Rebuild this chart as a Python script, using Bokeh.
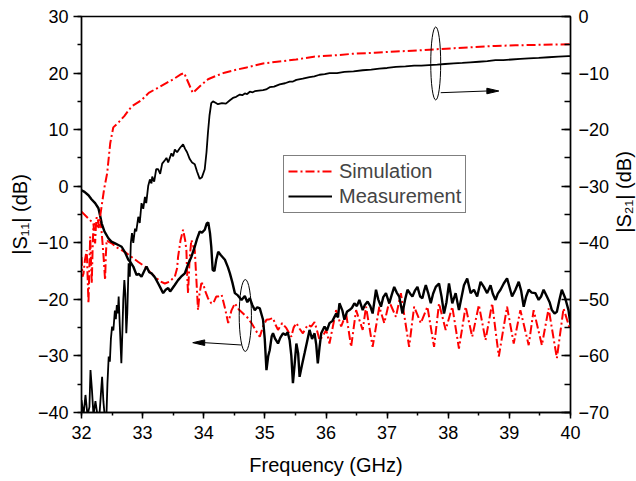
from math import pi
from bokeh.plotting import figure
from bokeh.layouts import row
from bokeh.models import (Range1d, LinearAxis, SingleIntervalTicker, Legend,
                          LegendItem, Label)
from bokeh.embed import file_html
from bokeh.resources import INLINE

FONT = "Liberation Sans"

# ---------------- data ----------------
# |S21| simulation (right axis, dB)
s21_sim_f = [32.00, 32.12, 32.22, 32.28, 32.33, 32.37, 32.42, 32.47, 32.52, 32.60,
             32.70, 32.82, 32.98, 33.10, 33.25, 33.40, 33.50, 33.63, 33.68, 33.82,
             33.95, 34.07, 34.20, 34.34, 34.50, 34.70, 34.97, 35.20, 35.51, 35.80,
             36.10, 36.43, 36.80, 37.14, 37.50, 37.79, 38.10, 38.45, 38.77, 39.10,
             39.50, 40.00]
s21_sim = [-34.5, -35.8, -36.8, -37.2, -33.5, -30.5, -27.7, -22.4, -19.6, -18.8,
           -17.6, -15.9, -14.8, -13.5, -12.6, -11.7, -11.1, -10.2, -10.0, -13.5,
           -12.2, -11.1, -10.5, -9.93, -9.5, -9.0, -8.3, -8.0, -7.6, -7.1,
           -6.9, -6.6, -6.4, -6.2, -6.0, -5.8, -5.6, -5.4, -5.2, -5.1,
           -5.0, -4.9]

# |S21| measurement (right axis, dB)
s21_meas_f = [32.000, 32.033, 32.065, 32.098, 32.130, 32.147, 32.171, 32.196, 32.228, 32.261,
              32.293, 32.337, 32.358, 32.383, 32.407, 32.424, 32.445, 32.464, 32.481, 32.500,
              32.521, 32.546, 32.562, 32.578, 32.595, 32.608, 32.627, 32.652, 32.668, 32.684,
              32.701, 32.717, 32.733, 32.749, 32.771, 32.790, 32.807, 32.826, 32.847, 32.875,
              32.896, 32.929, 32.953, 32.982, 33.010, 33.038, 33.059, 33.092, 33.119, 33.145,
              33.157, 33.189, 33.222, 33.255, 33.287, 33.320, 33.364, 33.390, 33.418, 33.471,
              33.499, 33.527, 33.564, 33.613, 33.662, 33.695, 33.727, 33.771, 33.809, 33.853,
              33.890, 33.934, 33.971, 34.016, 34.045, 34.069, 34.094, 34.123, 34.151, 34.200,
              34.232, 34.297, 34.363, 34.428, 34.477, 34.530, 34.591, 34.630, 34.672, 34.710,
              34.754, 34.800, 34.835, 34.900, 34.970, 35.020, 35.079, 35.150, 35.242, 35.330,
              35.405, 35.460, 35.515, 35.620, 35.731, 35.810, 35.894, 35.980, 36.057, 36.180,
              36.301, 36.450, 36.600, 36.740, 36.872, 37.000, 37.144, 37.300, 37.442, 37.560,
              37.686, 37.820, 37.947, 38.090, 38.229, 38.360, 38.501, 38.640, 38.773, 38.900,
              39.039, 39.180, 39.316, 39.480, 39.642, 39.800, 39.967, 40.000]
s21_meas = [-67.8, -70.5, -66.9, -70.5, -69.0, -62.5, -66.0, -70.5, -68.0, -70.5,
            -70.5, -63.7, -68.0, -71.0, -71.0, -65.0, -60.1, -61.0, -57.0, -54.8,
            -55.5, -52.0, -53.5, -51.0, -52.5, -49.5, -54.8, -61.3, -56.0, -50.0,
            -46.6, -49.0, -56.0, -52.5, -43.6, -46.0, -40.0, -38.3, -40.0, -37.5,
            -38.0, -35.4, -36.5, -33.0, -34.0, -31.9, -33.0, -29.9, -28.8, -29.5,
            -28.3, -29.2, -27.0, -27.0, -27.8, -26.0, -25.4, -25.0, -25.8, -24.2,
            -24.7, -23.5, -24.0, -23.2, -22.6, -23.4, -24.0, -25.2, -25.8, -26.1,
            -27.4, -28.7, -28.4, -27.0, -24.0, -20.5, -17.5, -15.3, -15.0, -15.3,
            -15.5, -15.3, -15.4, -14.8, -14.4, -14.2, -13.8, -13.9, -13.6, -13.7,
            -13.3, -13.4, -13.2, -13.1, -13.0, -12.9, -12.5, -12.4, -12.0, -11.8,
            -11.5, -11.5, -11.2, -11.0, -10.7, -10.6, -10.3, -10.2, -10.0, -10.0,
            -9.8, -9.7, -9.5, -9.4, -9.2, -9.1, -8.9, -8.8, -8.7, -8.7,
            -8.6, -8.5, -8.4, -8.3, -8.2, -8.1, -8.0, -7.9, -7.7, -7.7,
            -7.6, -7.5, -7.4, -7.3, -7.2, -7.1, -7.0, -7.0]

# |S11| simulation (left axis, dB)
s11_sim_f = [32.000, 32.016, 32.033, 32.057, 32.086, 32.103, 32.114, 32.130, 32.142, 32.155,
             32.168, 32.182, 32.196, 32.212, 32.223, 32.236, 32.249, 32.269, 32.285, 32.310,
             32.331, 32.358, 32.386, 32.399, 32.412, 32.440, 32.494, 32.570, 32.657, 32.733,
             32.820, 32.929, 33.038, 33.124, 33.201, 33.287, 33.364, 33.434, 33.527, 33.564,
             33.580, 33.621, 33.662, 33.695, 33.716, 33.730, 33.743, 33.768, 33.797, 33.825,
             33.853, 33.882, 33.906, 33.931, 33.960, 33.993, 34.016, 34.069, 34.123, 34.156,
             34.204, 34.232, 34.293, 34.346, 34.400, 34.452, 34.509, 34.574, 34.644, 34.713,
             34.781, 34.851, 34.917, 34.970, 35.026, 35.079, 35.133, 35.174, 35.215, 35.283,
             35.352, 35.389, 35.433, 35.470, 35.515, 35.568, 35.622, 35.663, 35.704, 35.759,
             35.813, 35.853, 35.894, 35.948, 36.003, 36.057, 36.166, 36.248, 36.329, 36.411,
             36.492, 36.600, 36.655, 36.763, 36.872, 36.953, 37.035, 37.144, 37.225, 37.360,
             37.442, 37.551, 37.659, 37.768, 37.849, 37.958, 38.066, 38.175, 38.284, 38.392,
             38.501, 38.610, 38.718, 38.827, 38.962, 39.071, 39.180, 39.316, 39.397, 39.532,
             39.642, 39.777, 39.886, 39.995]
s11_sim = [-12.5, -16.0, -15.4, -13.0, -11.3, -17.0, -20.7, -14.0, -8.9, -13.0,
           -17.2, -11.0, -6.6, -9.0, -10.1, -7.0, -5.4, -6.0, -7.5, -6.0,
           -8.3, -12.0, -16.6, -12.0, -9.5, -9.8, -10.1, -10.8, -11.3, -11.8,
           -12.5, -13.4, -14.2, -15.2, -16.0, -16.8, -17.2, -16.9, -16.0, -14.5,
           -12.5, -9.5, -7.7, -9.5, -11.3, -16.0, -18.9, -13.0, -9.5, -10.5,
           -11.3, -17.0, -21.9, -19.0, -17.2, -17.2, -18.3, -19.8, -20.7, -20.7,
           -19.5, -19.5, -19.2, -21.5, -24.2, -22.0, -20.7, -21.8, -22.5, -23.2,
           -24.2, -25.5, -26.6, -24.8, -23.6, -23.5, -23.3, -24.5, -25.4, -24.2,
           -25.1, -25.8, -26.6, -25.0, -24.2, -25.2, -26.0, -25.2, -24.5, -24.8,
           -24.0, -25.5, -27.2, -26.5, -25.4, -27.8, -21.9, -24.8, -22.5, -28.4,
           -21.9, -25.4, -21.3, -28.4, -21.3, -24.2, -20.4, -23.1, -18.9, -28.4,
           -21.3, -24.2, -21.3, -28.4, -20.7, -25.4, -21.3, -28.7, -21.3, -26.6,
           -21.0, -27.2, -20.7, -30.1, -21.3, -27.8, -21.9, -28.1, -21.9, -28.1,
           -21.6, -30.4, -21.6, -25.4]

# |S11| measurement (left axis, dB)
s11_meas_f = [32.000, 32.049, 32.114, 32.163, 32.223, 32.277, 32.310, 32.331, 32.375, 32.440,
              32.489, 32.549, 32.603, 32.657, 32.717, 32.766, 32.798, 32.847, 32.901, 32.937,
              32.982, 33.026, 33.064, 33.108, 33.145, 33.206, 33.255, 33.303, 33.336, 33.377,
              33.418, 33.450, 33.471, 33.523, 33.580, 33.629, 33.690, 33.743, 33.797, 33.853,
              33.890, 33.934, 33.971, 34.016, 34.048, 34.074, 34.102, 34.123, 34.146, 34.175,
              34.204, 34.237, 34.281, 34.346, 34.395, 34.428, 34.468, 34.509, 34.558, 34.618,
              34.672, 34.713, 34.754, 34.794, 34.835, 34.876, 34.917, 34.970, 34.998, 35.026,
              35.055, 35.079, 35.112, 35.133, 35.169, 35.215, 35.251, 35.296, 35.340, 35.373,
              35.405, 35.433, 35.459, 35.487, 35.515, 35.544, 35.568, 35.609, 35.650, 35.690,
              35.731, 35.772, 35.813, 35.840, 35.866, 35.894, 35.922, 35.976, 36.016, 36.057,
              36.106, 36.166, 36.196, 36.220, 36.269, 36.301, 36.342, 36.383, 36.424, 36.464,
              36.505, 36.546, 36.600, 36.635, 36.681, 36.725, 36.763, 36.818, 36.855, 36.899,
              36.937, 36.981, 37.035, 37.075, 37.116, 37.157, 37.198, 37.251, 37.295, 37.333,
              37.377, 37.414, 37.458, 37.496, 37.540, 37.577, 37.605, 37.633, 37.670, 37.714,
              37.752, 37.796, 37.849, 37.890, 37.931, 37.971, 38.012, 38.066, 38.121, 38.175,
              38.257, 38.310, 38.366, 38.420, 38.473, 38.529, 38.582, 38.636, 38.692, 38.729,
              38.773, 38.811, 38.855, 38.908, 38.962, 39.006, 39.044, 39.099, 39.153, 39.193,
              39.234, 39.275, 39.316, 39.365, 39.425, 39.479, 39.519, 39.560, 39.614, 39.658,
              39.695, 39.739, 39.777, 39.821, 39.858, 39.914, 39.967, 40.000]
s11_meas = [-0.7, -1.0, -1.6, -2.3, -3.0, -3.9, -5.5, -6.6, -8.0, -9.2,
            -9.8, -10.1, -10.4, -10.7, -11.8, -13.0, -13.4, -14.2, -15.7, -15.5,
            -16.0, -15.0, -14.2, -15.2, -15.4, -16.2, -17.2, -18.2, -18.9, -18.3,
            -18.0, -18.6, -18.3, -17.5, -16.6, -16.0, -15.4, -13.8, -12.5, -10.7,
            -9.3, -8.0, -8.2, -7.7, -6.6, -6.4, -8.3, -10.7, -14.8, -15.0,
            -13.0, -11.6, -12.2, -13.0, -14.3, -15.4, -17.0, -18.9, -19.3, -20.1,
            -19.4, -20.5, -19.8, -21.0, -21.9, -21.4, -21.6, -23.6, -27.0, -32.5,
            -30.0, -29.0, -26.5, -26.0, -27.0, -27.8, -26.8, -26.0, -26.3, -25.8,
            -27.2, -30.0, -34.8, -31.5, -27.8, -29.5, -33.7, -31.5, -29.5, -27.5,
            -25.4, -27.0, -26.0, -28.0, -31.3, -28.5, -26.0, -24.8, -25.5, -24.2,
            -23.8, -22.5, -23.2, -20.7, -22.0, -23.6, -22.2, -21.9, -21.5, -20.7,
            -21.2, -20.1, -21.9, -21.0, -20.4, -21.2, -22.5, -18.3, -20.0, -21.3,
            -19.6, -18.9, -20.7, -19.2, -17.8, -18.8, -19.5, -22.5, -20.0, -18.3,
            -19.0, -19.5, -18.4, -17.8, -19.5, -19.8, -18.5, -17.5, -18.8, -20.7,
            -19.0, -17.8, -17.2, -19.5, -22.5, -20.5, -17.2, -20.7, -18.9, -21.9,
            -17.5, -16.3, -18.9, -18.3, -19.5, -16.9, -17.8, -18.9, -17.5, -19.0,
            -20.1, -19.0, -18.3, -17.2, -16.3, -18.0, -19.5, -18.3, -16.9, -18.5,
            -21.3, -19.5, -18.3, -18.8, -18.9, -20.1, -19.5, -18.3, -19.5, -20.5,
            -21.9, -22.5, -22.2, -20.0, -18.3, -19.8, -21.9, -24.5]

x_ticks_interval = 1
y_ticks_interval = 10

# ---------------- main figure ----------------
p = figure(width=612, height=481, output_backend="svg", toolbar_location=None,
           x_range=Range1d(32, 40), y_range=Range1d(-40, 30),
           min_border_left=81, min_border_right=40, min_border_top=16,
           min_border_bottom=69)
p.extra_y_ranges = {"s21": Range1d(-70, 0)}
p.xgrid.visible = False
p.ygrid.visible = False
p.outline_line_color = "black"
p.outline_line_width = 1.3
p.background_fill_color = "white"
p.border_fill_color = "white"

RED = "#ff0000"
DASH = "9 3 2 3"

r_s11_sim = p.line(s11_sim_f, s11_sim, line_color=RED, line_width=2, line_dash=DASH)
r_s11_meas = p.line(s11_meas_f, s11_meas, line_color="black", line_width=2.4)
r_s21_sim = p.line(s21_sim_f, s21_sim, line_color=RED, line_width=2, line_dash=DASH,
                   y_range_name="s21")
r_s21_meas = p.line(s21_meas_f, s21_meas, line_color="black", line_width=1.8,
                    y_range_name="s21")

# annotations: ellipses and arrows
p.ellipse(x=[37.795], y=[21.7], width=0.163, height=12.9, fill_alpha=0,
          line_color="black", line_width=1)
p.ellipse(x=[34.68], y=[-22.85], width=0.2, height=12.7, fill_alpha=0,
          line_color="black", line_width=1)

head_len = 12 / 61.375
head_half = 2.8 / 5.657
# right-pointing arrow
a1_x0, a1_y0, a1_x1, a1_y1 = 37.877, 16.53, 38.827, 16.83
p.segment(x0=[a1_x0], y0=[a1_y0], x1=[a1_x1 - head_len], y1=[a1_y1], line_color="black",
          line_width=1)
p.patch([a1_x1, a1_x1 - head_len, a1_x1 - head_len],
        [a1_y1, a1_y1 + head_half, a1_y1 - head_half], color="black")
# left-pointing arrow
a2_x0, a2_y0, a2_x1, a2_y1 = 34.618, -28.07, 33.82, -27.66
p.segment(x0=[a2_x0], y0=[a2_y0], x1=[a2_x1 + head_len], y1=[a2_y1], line_color="black",
          line_width=1)
p.patch([a2_x1, a2_x1 + head_len, a2_x1 + head_len],
        [a2_y1, a2_y1 + head_half, a2_y1 - head_half], color="black")

# ---------------- axes ----------------
xa = p.xaxis[0]
xa.ticker = SingleIntervalTicker(interval=x_ticks_interval, num_minor_ticks=2)
xa.axis_label = "Frequency (GHz)"
xa.axis_label_standoff = 12
xa.major_tick_out = 6
xa.major_tick_in = 0
xa.minor_tick_out = 3
xa.minor_tick_in = 0
xa.major_label_standoff = 7

ya = p.yaxis[0]
ya.ticker = SingleIntervalTicker(interval=y_ticks_interval, num_minor_ticks=2)
ya.axis_label = "|S₁₁| (dB)"
ya.axis_label_standoff = 4
ya.major_tick_out = 8
ya.major_tick_in = 0
ya.minor_tick_out = 4
ya.minor_tick_in = 0
ya.major_label_standoff = 5

yr = LinearAxis(y_range_name="s21",
                ticker=SingleIntervalTicker(interval=y_ticks_interval, num_minor_ticks=2))
yr.major_tick_in = 9
yr.major_tick_out = 0
yr.minor_tick_in = 6
yr.minor_tick_out = 0
yr.major_label_standoff = 8
p.add_layout(yr, "right")

for ax in (xa, ya, yr):
    ax.major_label_text_font = FONT
    ax.major_label_text_font_size = "18px"
    ax.major_label_text_color = "black"
    ax.axis_label_text_font = FONT
    ax.axis_label_text_font_size = "20px"
    ax.axis_label_text_font_style = "normal"
    ax.axis_label_text_color = "black"
    ax.axis_line_color = "black"
    ax.axis_line_width = 1.5
    ax.major_tick_line_color = "black"
    ax.major_tick_line_width = 1.5
    ax.minor_tick_line_color = "black"
    ax.minor_tick_line_width = 1.5

# ---------------- legend ----------------
legend = Legend(items=[LegendItem(label="Simulation", renderers=[r_s21_sim]),
                       LegendItem(label="Measurement", renderers=[r_s21_meas])],
                location=(202, 199.5), border_line_color="black", border_line_width=1,
                background_fill_color="white", background_fill_alpha=1,
                padding=4, spacing=2, margin=0, label_text_font=FONT,
                label_text_font_size="20px", glyph_width=44, glyph_height=22,
                label_height=22, label_standoff=7)
p.add_layout(legend)

# ---------------- right-hand axis title (reads bottom-to-top) ----------------
t = figure(width=24, height=481, output_backend="svg", toolbar_location=None,
           x_range=Range1d(0, 1), y_range=Range1d(0, 1),
           x_axis_location=None, y_axis_location=None,
           min_border_left=0, min_border_right=0, min_border_top=0, min_border_bottom=0)
t.outline_line_color = None
t.xgrid.visible = False
t.ygrid.visible = False
t.background_fill_color = "white"
t.border_fill_color = "white"
t.add_layout(Label(x=0.46, y=0.557, text="|S₂₁| (dB)", angle=pi / 2,
                   text_align="center", text_baseline="middle",
                   text_font=FONT, text_font_size="20px", text_color="black"))

layout = row(p, t, spacing=0)
open("out.html", "w").write(file_html(layout, INLINE))
